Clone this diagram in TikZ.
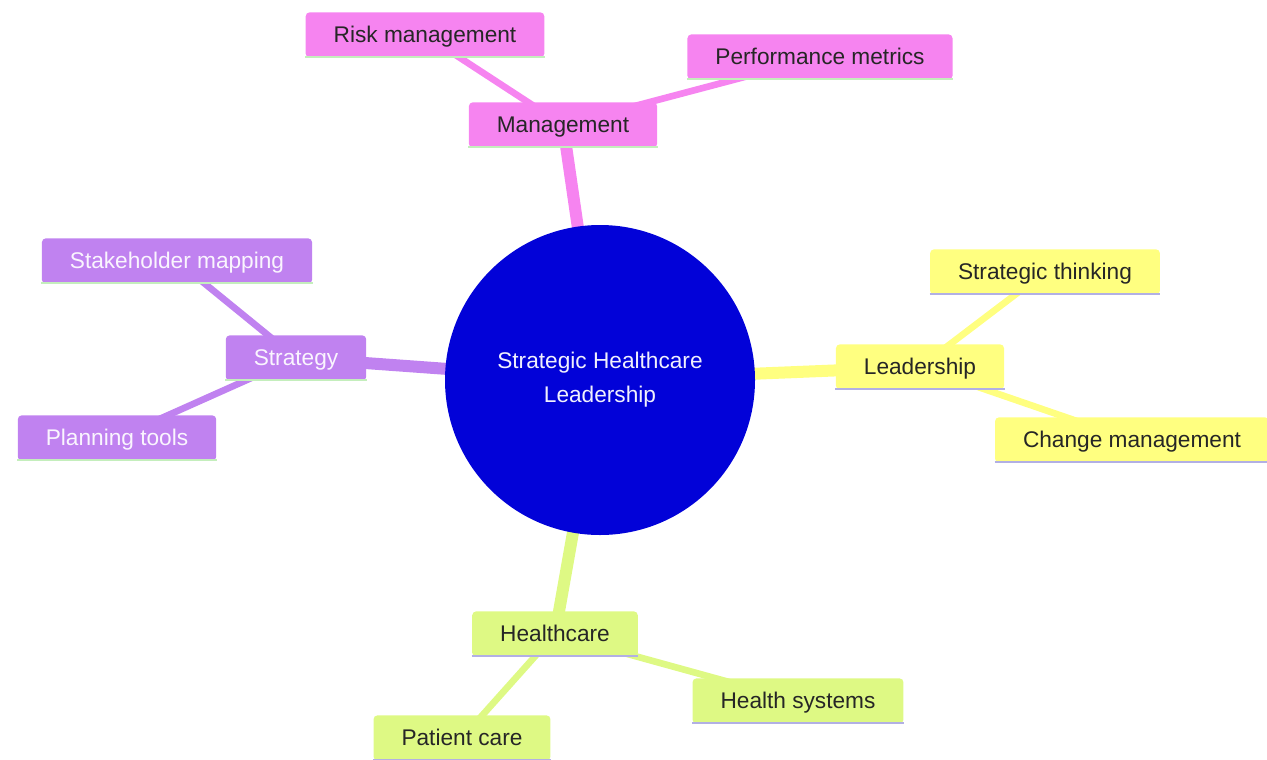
\documentclass[tikz,border=0pt]{standalone}
\usepackage{fontspec}
\setmainfont{Liberation Sans}
\usetikzlibrary{backgrounds}

\definecolor{rootblue}{RGB}{2,2,216}
\definecolor{mgmtpink}{RGB}{246,132,240}
\definecolor{stratlilac}{RGB}{192,130,240}
\definecolor{leadyellow}{RGB}{255,255,128}
\definecolor{carelime}{RGB}{222,249,132}
\definecolor{mintline}{RGB}{196,238,188}
\definecolor{lavline}{RGB}{178,176,228}

\tikzset{every picture/.style={line width=0.75pt}}
\tikzset{
  topic/.style={rounded corners=3pt, minimum height=34pt, inner xsep=21pt, inner ysep=0pt,
    text height=13pt, text depth=2pt, font=\fontsize{17}{20}\selectfont, text=black!85},
  mgmtbox/.style={topic, fill=mgmtpink},
  stratbox/.style={topic, fill=stratlilac, text=white!92!stratlilac},
  leadbox/.style={topic, fill=leadyellow},
  carebox/.style={topic, fill=carelime},
  branch/.style={line width=9pt},
  twig/.style={line width=5pt},
}

\begin{document}
\begin{tikzpicture}[x=0.75pt,y=0.75pt,yscale=-1,xscale=1]
\useasboundingbox (0,0) rectangle (1267,760);

%Shape: Circle [id:root]
\node [circle, fill=rootblue, minimum size=232.5pt, inner sep=0pt, align=center,
  text=white!94!rootblue, font=\fontsize{17}{25.5}\selectfont] (root) at (600,380) {Strategic Healthcare\\Leadership};

% Management branch
\node [mgmtbox] (mgmt) at (563,125) {Management};
\node [mgmtbox] (risk) at (425,35) {Risk management};
\node [mgmtbox] (perf) at (820,57) {Performance metrics};

% Strategy branch
\node [stratbox] (strat) at (296,358) {Strategy};
\node [stratbox] (stake) at (177,261) {Stakeholder mapping};
\node [stratbox] (plan) at (117,438) {Planning tools};

% Leadership branch
\node [leadbox] (lead) at (920,367) {Leadership};
\node [leadbox] (think) at (1045,272) {Strategic thinking};
\node [leadbox] (change) at (1132,440) {Change management};

% Healthcare branch
\node [carebox] (care) at (555,634) {Healthcare};
\node [carebox] (sys) at (798,701) {Health systems};
\node [carebox] (patient) at (462,738) {Patient care};

%Straight Lines [behind the nodes]
\begin{scope}[on background layer]
\draw [branch, mgmtpink] (root.center) -- (mgmt.center);
\draw [twig, mgmtpink] (mgmt.center) -- (risk.center);
\draw [twig, mgmtpink] (mgmt.center) -- (perf.center);
\draw [branch, stratlilac] (root.center) -- (strat.center);
\draw [twig, stratlilac] (strat.center) -- (stake.center);
\draw [twig, stratlilac] (strat.center) -- (plan.center);
\draw [branch, leadyellow] (root.center) -- (lead.center);
\draw [twig, leadyellow] (lead.center) -- (think.center);
\draw [twig, leadyellow] (lead.center) -- (change.center);
\draw [branch, carelime] (root.center) -- (care.center);
\draw [twig, carelime] (care.center) -- (sys.center);
\draw [twig, carelime] (care.center) -- (patient.center);
\end{scope}

% underlines of the boxes
\foreach \n/\c in {mgmt/mintline, risk/mintline, perf/mintline, strat/mintline, stake/mintline, plan/mintline,
  lead/lavline, think/lavline, change/lavline, care/lavline, sys/lavline, patient/lavline}
  \draw [\c, line width=2pt] ([yshift=-1pt]\n.south west) -- ([yshift=-1pt]\n.south east);

\end{tikzpicture}
\end{document}
